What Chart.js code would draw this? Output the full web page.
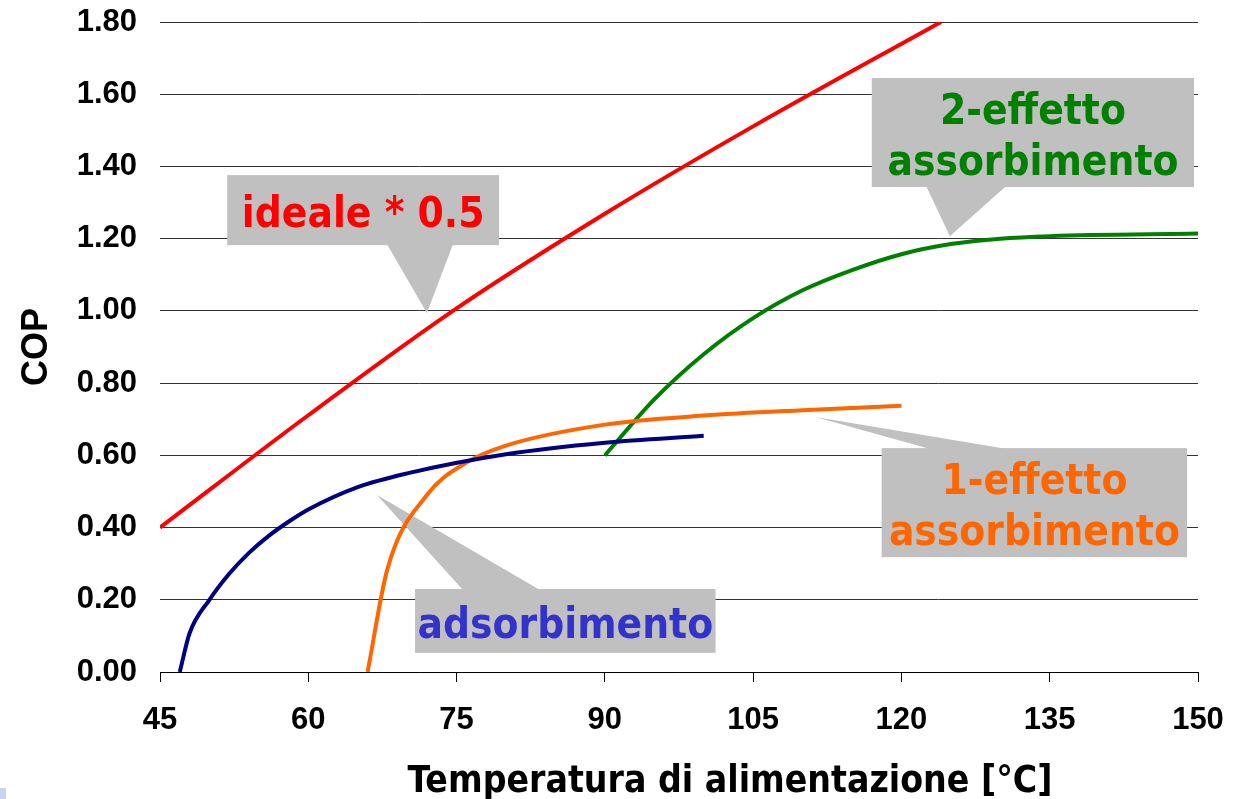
<!DOCTYPE html>
<html>
<head>
<meta charset="utf-8">
<script src="https://cdn.jsdelivr.net/npm/chart.js@4.4.0/dist/chart.umd.min.js"></script>
<style>
  body { margin: 0; background: #fff; }
  #wrap { position: relative; width: 1235px; height: 799px; }
  #corner { position: absolute; left: 0; top: 788px; width: 6px; height: 11px; background: #c6d6ec; }
</style>
</head>
<body>
<div id="wrap">
  <canvas id="chartCop"></canvas>
  <div id="corner"></div>
</div>
<script>
// values (temperature in °C, COP)
var idealT   = [45, 60, 75, 90, 105, 124];
var idealCop = [0.40, 0.711, 1.007, 1.269, 1.511, 1.80];

var adsT   = [47, 48, 50, 52, 54, 56, 58, 60, 65, 70, 80, 90, 100];
var adsCop = [0, 0.108, 0.20, 0.272, 0.33, 0.377, 0.416, 0.45, 0.512, 0.55, 0.603, 0.635, 0.654];

var single1T   = [66, 68, 72, 76, 80, 90, 100, 110, 120];
var single1Cop = [0, 0.285, 0.49, 0.58, 0.627, 0.685, 0.71, 0.725, 0.737];

var double2T   = [90, 95, 100, 105, 110, 115, 120, 125, 130, 135, 150];
var double2Cop = [0.60, 0.755, 0.88, 0.98, 1.057, 1.113, 1.157, 1.185, 1.20, 1.207, 1.214];

var xTicks = [45, 60, 75, 90, 105, 120, 135, 150];
var yTicks = [0, 0.2, 0.4, 0.6, 0.8, 1.0, 1.2, 1.4, 1.6, 1.8];

// callout labels, placed in data units: box [xmin, xmax, ytop, ybottom], base of the pointer on the box edge, tip
var callouts = [
    { lines: ['ideale * 0.5'], color: '#FF0000', box: [51.8, 79.3, 1.376, 1.182], base: [67.96, 74.64], tip: [72.0, 0.994] },
    { lines: ['2-effetto', 'assorbimento'], color: '#008000', box: [117.0, 149.6, 1.645, 1.343], base: [122.5, 130.6], tip: [124.9, 1.207] },
    { lines: ['1-effetto', 'assorbimento'], color: '#FF6600', box: [118.0, 148.9, 0.620, 0.318], base: [122.9, 130.7], tip: [111.3, 0.706] },
    { lines: ['adsorbimento'], color: '#3333CC', box: [70.8, 101.2, 0.230, 0.053], base: [75.65, 83.44], tip: [66.95, 0.490] }
];

function pairs(xs, ys) {
    return xs.map(function(v, i) { return { x: v, y: ys[i] }; });
}

var labelFont = '"DejaVu Sans Condensed", "DejaVu Sans", sans-serif';

var calloutPlugin = {
    id: 'callouts',
    beforeDatasetsDraw: function(chart) {
        var ctx = chart.ctx, xs = chart.scales.x, ys = chart.scales.y;
        callouts.forEach(function(c) {
            var l = xs.getPixelForValue(c.box[0]), r = xs.getPixelForValue(c.box[1]);
            var t = ys.getPixelForValue(c.box[2]), b = ys.getPixelForValue(c.box[3]);
            var tx = xs.getPixelForValue(c.tip[0]), ty = ys.getPixelForValue(c.tip[1]);
            var edge = ty < t ? t + 1 : b - 1;
            ctx.save();
            ctx.fillStyle = '#C0C0C0';
            ctx.fillRect(l, t, r - l, b - t);
            ctx.beginPath();
            ctx.moveTo(xs.getPixelForValue(c.base[0]), edge);
            ctx.lineTo(tx, ty);
            ctx.lineTo(xs.getPixelForValue(c.base[1]), edge);
            ctx.closePath();
            ctx.fill();
            ctx.fillStyle = c.color;
            ctx.font = 'bold 42px ' + labelFont;
            ctx.textAlign = 'center';
            ctx.textBaseline = 'alphabetic';
            var cx = (l + r) / 2, cy = (t + b) / 2;
            c.lines.forEach(function(s, i) {
                ctx.fillText(s, cx, cy + 17 + (i - (c.lines.length - 1) / 2) * 51);
            });
            ctx.restore();
        });
    }
};

var titlePlugin = {
    id: 'axisTitles',
    afterDraw: function(chart) {
        var ctx = chart.ctx, a = chart.chartArea;
        ctx.save();
        ctx.fillStyle = '#000';
        ctx.textAlign = 'center';
        ctx.textBaseline = 'alphabetic';
        ctx.font = 'bold 37px ' + labelFont;
        ctx.fillText('Temperatura di alimentazione [°C]', (a.left + a.right) / 2 + 51, 792);
        ctx.translate(47, (a.top + a.bottom) / 2);
        ctx.rotate(-Math.PI / 2);
        ctx.font = 'bold 36px "Liberation Sans", Arial, sans-serif';
        ctx.fillText('COP', 0, 0);
        ctx.restore();
    }
};

function lineSet(label, xs, ys, color) {
    return {
        label: label,
        data: pairs(xs, ys),
        borderColor: color,
        backgroundColor: color,
        borderWidth: 4,
        pointRadius: 0,
        fill: false,
        cubicInterpolationMode: 'monotone'
    };
}

var tickFont = { family: '"Liberation Sans", Arial, sans-serif', size: 31, weight: 'bold' };

var chartCop = new Chart(document.getElementById('chartCop'), {
    type: 'line',
    data: {
        datasets: [
            lineSet('ideale * 0.5', idealT, idealCop, '#FF0000'),
            lineSet('adsorbimento', adsT, adsCop, '#000080'),
            lineSet('1-effetto assorbimento', single1T, single1Cop, '#FF6600'),
            lineSet('2-effetto assorbimento', double2T, double2Cop, '#008000')
        ]
    },
    plugins: [calloutPlugin, titlePlugin],
    options: {
        responsive: true,
        maintainAspectRatio: false,
        animation: false,
        layout: { padding: { top: 22, right: 37, left: 0, bottom: 0 } },
        plugins: {
            legend: { display: false },
            tooltip: { enabled: false }
        },
        scales: {
            x: {
                type: 'linear',
                min: 45,
                max: 150,
                afterFit: function(s) { s.height = 127; s.paddingLeft = 0; s.paddingRight = 0; },
                afterBuildTicks: function(s) { s.ticks = xTicks.map(function(v) { return { value: v }; }); },
                grid: { drawOnChartArea: false, drawTicks: true, tickLength: 10, color: '#000' },
                border: { display: true, color: '#000', width: 1 },
                ticks: {
                    padding: 20,
                    maxRotation: 0,
                    color: '#000',
                    font: tickFont
                }
            },
            y: {
                min: 0,
                max: 1.8,
                afterFit: function(s) { s.width = 160; s.paddingTop = 0; s.paddingBottom = 0; },
                afterBuildTicks: function(s) { s.ticks = yTicks.map(function(v) { return { value: v }; }); },
                grid: { drawTicks: false, color: '#333', lineWidth: 1 },
                border: { display: false },
                ticks: {
                    padding: 23,
                    color: '#000',
                    font: tickFont,
                    callback: function(v) { return v.toFixed(2); }
                }
            }
        }
    }
});
</script>
</body>
</html>
